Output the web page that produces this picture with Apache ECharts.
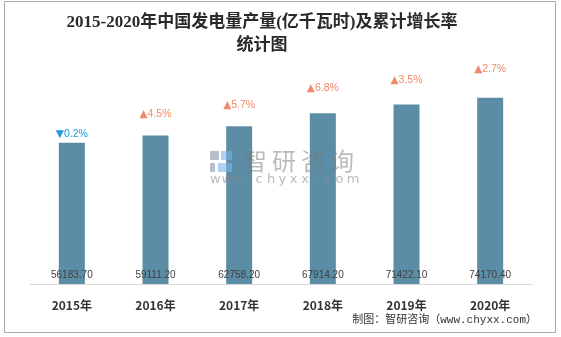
<!DOCTYPE html>
<html><head><meta charset="utf-8">
<script src="https://cdn.jsdelivr.net/npm/echarts@6/dist/echarts.min.js"></script>
<style>html,body{margin:0;padding:0;background:#fff}#c{width:561px;height:337px}</style>
</head><body><div id="c"></div>
<script>
const categories = ['2015年','2016年','2017年','2018年','2019年','2020年'];
const output = [56183.7, 59111.2, 62758.2, 67914.2, 71422.1, 74170.4];
const growth = [-0.2, 4.5, 5.7, 6.8, 3.5, 2.7];
const titleLines = ['2015-2020年中国发电量产量(亿千瓦时)及累计增长率', '统计图'];
const sourceText = '制图：智研咨询（www.chyxx.com）';

// label gaps (style only)
const gaps = [3, 16, 16, 20, 19, 23];

const chart = echarts.init(document.getElementById('c'));
const wmChars = '智研咨询'.split('');
const urlChars = 'www.chyxx.com'.split('');
const titleFont = 'bold 17px "Liberation Serif","Noto Sans CJK SC"';
const graphics = [
  {type:'rect', shape:{x:4.5,y:1.5,width:551,height:331}, style:{fill:'none',stroke:'#a6a6a6',lineWidth:1}, z:0},
  {type:'text', x:262, y:14, style:{text:titleLines[0], font:titleFont, fill:'#2a2a2a', textAlign:'center'}},
  {type:'text', x:262, y:37, style:{text:titleLines[1], font:titleFont, fill:'#2a2a2a', textAlign:'center'}},
  {type:'text', right:24, top:315, style:{text:sourceText, font:'11px "Liberation Mono","Noto Sans CJK SC"', fill:'#333'}},
  // watermark logo
  {type:'rect', shape:{x:210,y:151,width:9,height:9}, style:{fill:'rgba(130,140,160,0.55)'}, z:20},
  {type:'rect', shape:{x:210,y:163,width:5,height:9}, style:{fill:'rgba(130,140,160,0.55)'}, z:20},
  {type:'rect', shape:{x:221,y:151,width:11,height:9}, style:{fill:'rgba(120,180,230,0.6)'}, z:20},
  {type:'rect', shape:{x:218,y:163,width:14,height:9}, style:{fill:'rgba(120,180,230,0.6)'}, z:20}
];
wmChars.forEach((ch,i)=>graphics.push({type:'text', x:243+i*29, y:149, z:20,
  style:{text:ch, font:'24px "Noto Sans CJK SC"', fill:'rgba(120,120,120,0.5)'}}));
urlChars.forEach((ch,i)=>graphics.push({type:'text', x:210+i*11.4, y:173, z:20,
  style:{text:ch, font:'13px "DejaVu Sans"', fill:'rgba(140,140,140,0.6)'}}));

const lf = '"Liberation Sans","DejaVu Sans"';
chart.setOption({
  animation:false,
  grid:{left:30, right:29, top:83, bottom:53},
  xAxis:{type:'category', data:categories,
    axisLine:{lineStyle:{color:'#d9d9d9', width:1}}, axisTick:{show:false},
    axisLabel:{color:'#333', fontSize:12, fontWeight:'bold', margin:15,
      fontFamily:'"Noto Sans CJK SC"'}},
  yAxis:{type:'value', min:0, max:80000, show:false, splitLine:{show:false}},
  graphic:graphics,
  series:[
    {type:'bar', data:output.map((v,i)=>({value:v,
        label:{distance:gaps[i]}})),
      barWidth:26, itemStyle:{color:'#5b8ea6'},
      label:{show:true, position:'top',
        formatter:p=>{const g=growth[p.dataIndex]; return g<0?'{dt|▼}{dn|'+Math.abs(g).toFixed(1)+'%}':'{ut|▲}{up|'+g.toFixed(1)+'%}';},
        rich:{up:{color:'#f2886a', fontSize:10.5, fontFamily:lf},
              ut:{color:'#f2886a', fontSize:10.5, fontFamily:'"DejaVu Sans"'},
              dn:{color:'#1f9be0', fontSize:10.5, fontFamily:lf},
              dt:{color:'#1f9be0', fontSize:10.5, fontFamily:'"DejaVu Sans"'}}}},
    {type:'bar', data:output, barWidth:26, barGap:'-100%', z:3,
      itemStyle:{color:'rgba(0,0,0,0)'},
      label:{show:true, position:'insideBottom', distance:4, color:'#404040', fontSize:10,
        fontFamily:'"Liberation Sans"', formatter:p=>p.value.toFixed(2)}}
  ]
});
</script></body></html>
